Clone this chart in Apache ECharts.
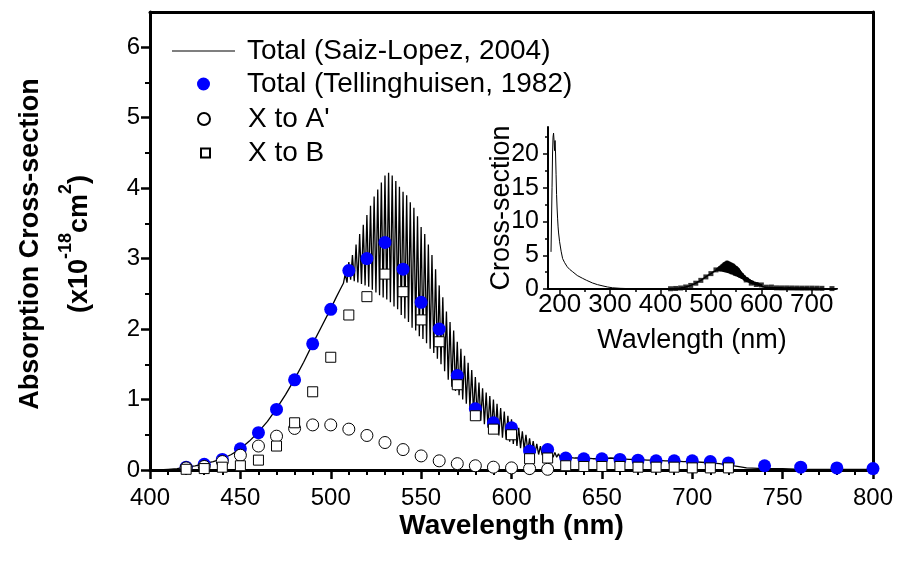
<!DOCTYPE html>
<html>
<head>
<meta charset="utf-8">
<script src="https://cdn.jsdelivr.net/npm/echarts@6/dist/echarts.min.js"></script>
<style>html,body{margin:0;padding:0;background:#fff;}#c{width:902px;height:566px;}</style>
</head>
<body>
<div id="c"></div>
<script>
// Saiz-Lopez 2004 total (main plot, x1e-18 cm2)
var lineWl = [400,405,410,415,420,425,430,435,440,445,450,455,460,465,470,475,480,485,490,495,500,503,505,507,
508,509,510,511,512,513,514,515,516,517,518,519,520,521,522,523,524,525,526,527,528,529,530,531,532,533,534,535,536,537,538,539,540,
541,542,543,544,545,546,547,548,549,550,551,552,553,554,555,556,557,558,559,560,561,562,563,564,565,566,567,568,569,570,
571,572,573,574,575,576,577,578,579,580,581,582,583,584,585,586,587,588,589,590,591,592,593,594,595,596,597,598,599,600,
601,602,603,604,605,606,607,608,609,610,611,612,613,614,615,616,617,618,619,620,621,622,623,624,625,626,627,628,629,630,
632,635,640,645,650,655,660,665,670,675,680,685,690,695,700,705,710,715,720,725,730,740,750,760,780,800];
var lineVal = [0.00,0.00,0.01,0.02,0.04,0.06,0.09,0.12,0.16,0.22,0.30,0.41,0.54,0.69,0.87,1.07,1.29,1.53,1.79,2.04,2.29,2.45,2.55,2.65,
2.78,2.66,2.95,2.70,3.05,2.68,3.20,2.66,3.35,2.64,3.48,2.62,3.62,2.60,3.75,2.56,3.88,2.52,3.98,2.48,4.08,2.45,4.18,2.42,4.22,2.38,4.18,2.32,4.10,2.28,4.02,2.20,3.95,
2.15,3.90,2.10,3.80,2.02,3.72,1.98,3.60,1.90,3.45,1.86,3.35,1.80,3.20,1.72,3.05,1.66,2.85,1.58,2.62,1.50,2.45,1.40,2.25,1.28,2.10,1.18,1.98,1.12,1.82,
1.06,1.72,1.00,1.62,0.94,1.52,0.88,1.42,0.80,1.32,0.75,1.24,0.70,1.16,0.65,1.10,0.60,1.05,0.55,1.00,0.52,0.94,0.49,0.88,0.46,0.83,0.43,0.77,0.40,0.72,
0.37,0.66,0.34,0.60,0.31,0.55,0.29,0.50,0.27,0.45,0.25,0.41,0.24,0.37,0.22,0.34,0.21,0.31,0.20,0.29,0.19,0.27,0.18,0.25,0.18,0.23,0.17,0.22,0.17,0.20,
0.18,0.17,0.17,0.16,0.16,0.17,0.16,0.15,0.15,0.14,0.14,0.13,0.13,0.12,0.12,0.11,0.10,0.09,0.07,0.05,0.03,0.02,0.02,0.01,0.01,0.01];

// Tellinghuisen 1982 total
var tWl  = [420,430,440,450,460,470,480,490,500,510,520,530,540,550,560,570,580,590,600,610,620,630,640,650,660,670,680,690,700,710,720,740,760,780,800];
var tVal = [0.04,0.08,0.15,0.30,0.53,0.86,1.28,1.79,2.28,2.83,3.00,3.23,2.85,2.38,2.00,1.34,0.87,0.67,0.60,0.27,0.29,0.17,0.16,0.16,0.15,0.14,0.13,0.13,0.13,0.12,0.10,0.06,0.04,0.03,0.02];

// X to A'
var aWl  = [420,430,440,450,460,470,480,490,500,510,520,530,540,550,560,570,580,590,600,610,620];
var aVal = [0.03,0.05,0.12,0.21,0.34,0.48,0.59,0.64,0.64,0.58,0.49,0.39,0.29,0.20,0.13,0.09,0.06,0.04,0.03,0.02,0.01];

// X to B
var bWl  = [420,430,440,450,460,470,480,490,500,510,520,530,540,550,560,570,580,590,600,610,620,630,640,650,660,670,680,690,700,710,720];
var bVal = [0.01,0.02,0.04,0.06,0.14,0.34,0.67,1.11,1.60,2.20,2.46,2.78,2.53,2.13,1.82,1.21,0.77,0.58,0.50,0.16,0.17,0.06,0.05,0.05,0.05,0.04,0.04,0.04,0.03,0.03,0.03];

// Inset: UV part of the cross-section
var uvWl  = [183,185,186,187,188,189,190,191,192,193,194,195,196,197,198,200,203,206,210,215,220,226,235,245,253,265,275,286,295,305,320,340,360,380,400,415];
var uvVal = [5.5,15,20,22.5,23.1,22.0,20.5,22.0,20.0,17.0,14.0,12.0,10.5,9.2,8.3,7.0,5.6,4.5,3.9,3.3,2.9,2.55,2.0,1.6,1.3,0.9,0.65,0.45,0.3,0.18,0.1,0.05,0.03,0.02,0.02,0.02];

// Tick values
var mainYTicks = [0,1,2,3,4,5,6];
var mainYMinor = [0.5,1.5,2.5,3.5,4.5,5.5];
var insetXTicks = [200,300,400,500,600,700];
var insetXMinor = [250,350,450,550,650];
var insetYTicks = [0,5,10,15,20];
var insetYMinor = [2.5,7.5,12.5,17.5,22.5];

function zip(a, b) { var r = []; for (var i = 0; i < a.length; i++) r.push([a[i], b[i]]); return r; }

var FONT = 'Liberation Sans, Arial, Helvetica, sans-serif';
var chart = echarts.init(document.getElementById('c'), null, {renderer: 'canvas'});

function mkLegend(name, icon, left, top, w, h, pad) {
  return {data: [{name: name, icon: icon}], left: left, top: top, padding: 0, itemWidth: w, itemHeight: h,
    textStyle: {color: '#000', fontSize: 28, fontFamily: FONT, lineHeight: 30, padding: [0, 0, 0, pad]},
    selectedMode: false};
}

chart.setOption({
  animation: false,
  backgroundColor: '#fff',
  textStyle: {fontFamily: FONT},
  grid: [
    {left: 150, right: 29, top: 12, bottom: 96, outerBoundsMode: 'none', containLabel: false},
    {left: 548, right: 66, top: 127, bottom: 277, outerBoundsMode: 'none', containLabel: false}
  ],
  legend: [
    mkLegend('Total (Saiz-Lopez, 2004)', 'rect', 172, 36, 63, 1, 7),
    mkLegend('Total (Tellinghuisen, 1982)', 'circle', 197, 69, 13, 13, 32),
    mkLegend("X to A'", 'circle', 197, 104, 12, 12, 33),
    mkLegend('X to B', 'rect', 200, 138, 9, 9, 33)
  ],
  xAxis: [
    {type: 'value', gridIndex: 0, position: 'bottom', min: 400, max: 800, interval: 50,
     axisLine: {onZero: false, lineStyle: {color: '#000', width: 3}},
     axisTick: {length: 9, lineStyle: {color: '#000', width: 2.5}},
     minorTick: {show: true, splitNumber: 5, length: 5, lineStyle: {color: '#000', width: 2}},
     axisLabel: {color: '#000', fontSize: 24, margin: 16, fontFamily: FONT},
     splitLine: {show: false}, minorSplitLine: {show: false},
     name: 'Wavelength (nm)', nameLocation: 'middle', nameGap: 42, nameMoveOverlap: false,
     nameTextStyle: {color: '#000', fontSize: 28, fontWeight: 'bold', fontFamily: FONT}},
    {type: 'value', gridIndex: 0, position: 'top', min: 400, max: 800,
     axisLine: {onZero: false, lineStyle: {color: '#000', width: 3}},
     axisTick: {show: false}, axisLabel: {show: false}, splitLine: {show: false}},
    {type: 'value', gridIndex: 1, position: 'bottom', min: 177, max: 748,
     axisLine: {onZero: false, lineStyle: {color: '#000', width: 2}},
     axisTick: {customValues: insetXTicks, length: 5, lineStyle: {color: '#000', width: 1.5}},
     axisLabel: {customValues: insetXTicks, color: '#000', fontSize: 26, margin: 3, fontFamily: FONT},
     splitLine: {show: false},
     name: 'Wavlength (nm)', nameLocation: 'middle', nameGap: 38, nameMoveOverlap: false,
     nameTextStyle: {color: '#000', fontSize: 27, fontFamily: FONT}},
    {type: 'value', gridIndex: 1, position: 'bottom', min: 177, max: 748,
     axisLine: {show: false, onZero: false},
     axisTick: {customValues: insetXMinor, length: 3, lineStyle: {color: '#000', width: 1.5}},
     axisLabel: {show: false}, splitLine: {show: false}}
  ],
  yAxis: [
    {type: 'value', gridIndex: 0, position: 'left', min: 0, max: 6.5,
     axisLine: {show: true, onZero: false, lineStyle: {color: '#000', width: 3}},
     axisTick: {show: true, customValues: mainYTicks, length: 9, lineStyle: {color: '#000', width: 2.5}},
     axisLabel: {customValues: mainYTicks, color: '#000', fontSize: 24, margin: 10, fontFamily: FONT},
     splitLine: {show: false}},
    {type: 'value', gridIndex: 0, position: 'right', min: 0, max: 6.5,
     axisLine: {show: true, onZero: false, lineStyle: {color: '#000', width: 3}},
     axisTick: {show: false}, axisLabel: {show: false}, splitLine: {show: false}},
    {type: 'value', gridIndex: 0, position: 'left', min: 0, max: 6.5, offset: 0,
     axisLine: {show: false, onZero: false},
     axisTick: {show: true, customValues: mainYMinor, length: 5, lineStyle: {color: '#000', width: 2}},
     axisLabel: {show: false}, splitLine: {show: false}},
    {type: 'value', gridIndex: 1, position: 'left', min: 0, max: 24,
     axisLine: {show: true, onZero: false, lineStyle: {color: '#000', width: 2}},
     axisTick: {show: true, customValues: insetYTicks, length: 5, lineStyle: {color: '#000', width: 1.5}},
     axisLabel: {customValues: insetYTicks, color: '#000', fontSize: 25, margin: 9, fontFamily: FONT},
     splitLine: {show: false},
     name: 'Cross-section', nameLocation: 'middle', nameGap: 33, nameRotate: 90, nameMoveOverlap: false,
     nameTextStyle: {color: '#000', fontSize: 27, fontFamily: FONT}},
    {type: 'value', gridIndex: 1, position: 'left', min: 0, max: 24, offset: 0,
     axisLine: {show: false, onZero: false},
     axisTick: {show: true, customValues: insetYMinor, length: 3, lineStyle: {color: '#000', width: 1.5}},
     axisLabel: {show: false}, splitLine: {show: false}}
  ],
  series: [
    {name: 'Total (Saiz-Lopez, 2004)', type: 'line', xAxisIndex: 0, yAxisIndex: 0,
     data: zip(lineWl, lineVal), showSymbol: false, symbol: 'none', sampling: null,
     lineStyle: {color: '#000', width: 1.3}, itemStyle: {color: '#000'}, z: 2, clip: true},
    {name: 'Total (Tellinghuisen, 1982)', type: 'scatter', xAxisIndex: 0, yAxisIndex: 0,
     data: zip(tWl, tVal), symbol: 'circle', symbolSize: 13,
     itemStyle: {color: '#0000ff', opacity: 1}, z: 3},
    {name: "X to A'", type: 'scatter', xAxisIndex: 0, yAxisIndex: 0,
     data: zip(aWl, aVal), symbol: 'circle', symbolSize: 12,
     itemStyle: {color: '#fff', borderColor: '#000', borderWidth: 1, opacity: 1}, z: 4},
    {name: 'X to B', type: 'scatter', xAxisIndex: 0, yAxisIndex: 0,
     data: zip(bWl, bVal), symbol: 'rect', symbolSize: 10,
     itemStyle: {color: '#fff', borderColor: '#000', borderWidth: 1, opacity: 1}, z: 5},
    {name: 'inset-uv', type: 'line', xAxisIndex: 2, yAxisIndex: 3,
     data: zip(uvWl, uvVal), showSymbol: false, symbol: 'none',
     lineStyle: {color: '#000', width: 1}, z: 2, clip: true},
    {name: 'inset-vis', type: 'line', xAxisIndex: 2, yAxisIndex: 3,
     data: zip(lineWl, lineVal), showSymbol: false, symbol: 'none',
     lineStyle: {color: '#000', width: 1.5}, z: 2, clip: true},
    {name: 'inset-tell', type: 'scatter', xAxisIndex: 2, yAxisIndex: 3,
     data: zip(tWl, tVal), symbol: 'rect', symbolSize: 5,
     itemStyle: {color: '#000'}, z: 3, clip: true}
  ],
  graphic: [
    {type: 'text', x: 31, y: 244, rotation: Math.PI / 2,
     style: {text: 'Absorption Cross-section', fill: '#000', font: 'bold 27px ' + FONT,
             align: 'center', verticalAlign: 'middle'}},
    {type: 'text', x: 75, y: 244, rotation: Math.PI / 2,
     style: {text: '{n|(x10}{s|-18}{n|cm}{s|2}{n|)}', align: 'center', verticalAlign: 'middle',
             rich: {
               n: {fill: '#000', font: 'bold 27px ' + FONT, fontSize: 27, fontWeight: 'bold', fontFamily: FONT, lineHeight: 36, verticalAlign: 'bottom'},
               s: {fill: '#000', font: 'bold 18px ' + FONT, fontSize: 18, fontWeight: 'bold', fontFamily: FONT, lineHeight: 18, verticalAlign: 'top'}
             }}}
  ]
});
</script>
</body>
</html>
